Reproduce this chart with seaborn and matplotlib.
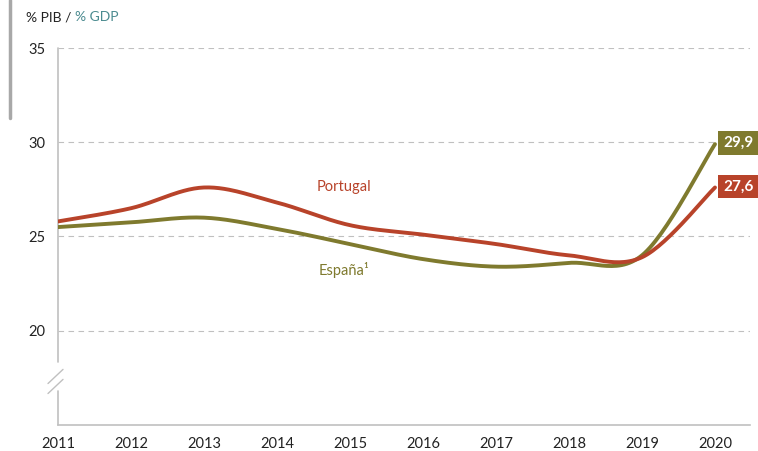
import numpy as np
import pandas as pd
import matplotlib
matplotlib.use("Agg")
import matplotlib.pyplot as plt
import seaborn as sns

years = [2011, 2012, 2013, 2014, 2015, 2016, 2017, 2018, 2019, 2020]
portugal = [25.8, 26.5, 27.6, 26.8, 25.6, 25.1, 24.6, 24.0, 23.9, 27.6]
espana = [25.5, 25.75, 26.0, 25.4, 24.6, 23.8, 23.4, 23.6, 24.0, 29.9]
yticks = [20, 25, 30, 35]
end_labels = ["27,6", "29,9"]

sns.set_theme(style="white")
plt.rcParams['font.family'] = ['Lato', 'DejaVu Sans']

C_PT = "#b8432a"
C_ES = "#7f7a2e"
GRID = "#c0c0c0"


def smooth(xs, ys, n=30):
    # Bezier smoothing through the points (same look as spreadsheet "smoothed line")
    xs = np.asarray(xs, float)
    ys = np.asarray(ys, float)
    px = np.concatenate([[xs[0]], xs, [xs[-1]]])
    py = np.concatenate([[ys[0]], ys, [ys[-1]]])
    ox, oy = [], []
    for i in range(1, len(px) - 2):
        p0 = np.array([px[i - 1], py[i - 1]])
        p1 = np.array([px[i], py[i]])
        p2 = np.array([px[i + 1], py[i + 1]])
        p3 = np.array([px[i + 2], py[i + 2]])
        c1 = p1 + (p2 - p0) / 6.0
        c2 = p2 - (p3 - p1) / 6.0
        t = np.linspace(0, 1, n)[:, None]
        pts = (1 - t) ** 3 * p1 + 3 * (1 - t) ** 2 * t * c1 + 3 * (1 - t) * t ** 2 * c2 + t ** 3 * p2
        ox.extend(pts[:, 0])
        oy.extend(pts[:, 1])
    return ox, oy


fig = plt.figure(figsize=(7.58, 4.51), dpi=100)
ax = fig.add_axes([58 / 758, 26 / 451, (750 - 58) / 758, (425 - 48) / 451])

sx, sy = smooth(years, portugal)
ex, ey = smooth(years, espana)
df_pt = pd.DataFrame({"x": sx, "y": sy})
df_es = pd.DataFrame({"x": ex, "y": ey})

for v in yticks:
    ax.axhline(v, color=GRID, lw=0.8, ls=(0, (5, 4)), zorder=0)

sns.lineplot(data=df_es, x="x", y="y", sort=False, color=C_ES, lw=2.8, ax=ax, zorder=3)
sns.lineplot(data=df_pt, x="x", y="y", sort=False, color=C_PT, lw=2.8, ax=ax, zorder=4)

ax.set_xlim(2011, 2020 + 35 / 73)
ax.set_ylim(15, 35)
ax.set_xticks(years)
ax.set_xticklabels([str(y) for y in years], fontsize=10.5, color="#222222")
ax.set_yticks(yticks)
ax.set_yticklabels([str(v) for v in yticks], fontsize=10.5, color="#222222")
ax.tick_params(axis="y", length=0, pad=9)
ax.tick_params(axis="x", length=0, pad=9)
ax.set_xlabel("")
ax.set_ylabel("")

for s in ["top", "right", "left"]:
    ax.spines[s].set_visible(False)
ax.spines["bottom"].set_color(GRID)
ax.spines["bottom"].set_linewidth(1.2)

# left spine with break
ax.plot([2011, 2011], [35, 18.35], color=GRID, lw=1.2, clip_on=False, zorder=2)
ax.plot([2011, 2011], [16.8, 15], color=GRID, lw=1.2, clip_on=False, zorder=2)
for dy in (0, -0.53):
    ax.plot([2011 - 10 / 73, 2011 + 5 / 73], [17.2 + dy, 17.95 + dy], color=GRID, lw=1.0,
            clip_on=False, zorder=2)

# series labels
ax.text(2014.92, 27.6, "Portugal", color=C_PT, fontsize=10.5, ha="center", va="center")
ax.text(2014.92, 23.2, "España¹", color=C_ES, fontsize=10.5, ha="center", va="center")

# end value boxes
xb = 2020 + 8 / 73
ax.text(xb, espana[-1] + 0.05, end_labels[1], color="white", fontsize=11, fontweight="bold",
        ha="left", va="center", clip_on=False, zorder=5,
        bbox=dict(boxstyle="square,pad=0.32", fc=C_ES, ec="none"))
ax.text(xb, portugal[-1] + 0.05, end_labels[0], color="white", fontsize=11, fontweight="bold",
        ha="left", va="center", clip_on=False, zorder=5,
        bbox=dict(boxstyle="square,pad=0.32", fc=C_PT, ec="none"))

# title
t1 = fig.text(26 / 758, 1 - 17 / 451, "% PIB / ", fontsize=10, color="#222222", va="center", ha="left")
fig.canvas.draw()
bb = t1.get_window_extent()
fig.text(bb.x1 / 758, 1 - 17 / 451, "% GDP", fontsize=10, color="#4a8a8f", va="center", ha="left")

# decorative bar
fig.add_artist(plt.Line2D([10 / 758, 10 / 758], [1, 1 - 118 / 451], color="#a8a8a8", lw=2.5,
                          transform=fig.transFigure))

fig.savefig("out.png", dpi=100)
